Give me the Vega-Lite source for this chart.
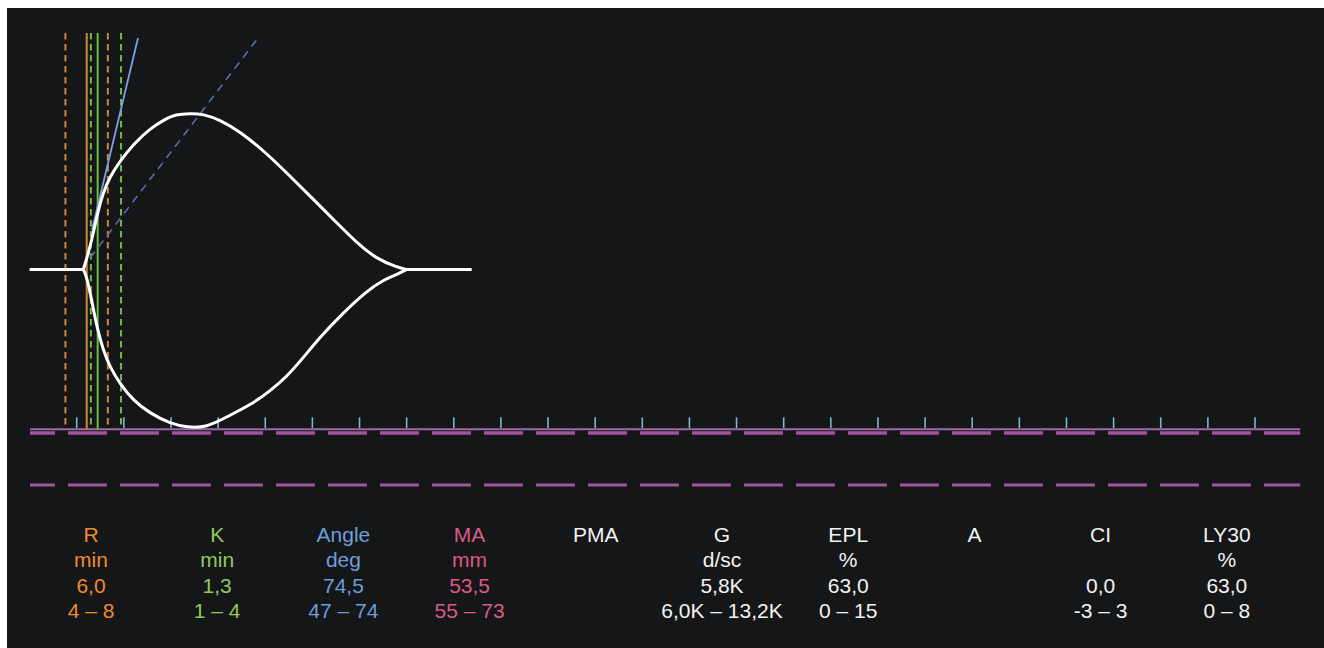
{
  "$schema": "https://vega.github.io/schema/vega-lite/v6.json",
  "width": 1324,
  "height": 648,
  "autosize": {"type": "fit", "contains": "padding"},
  "padding": {"left": 7, "top": 8, "right": 0, "bottom": 0},
  "background": "#ffffff",
  "config": {"view": {"fill": "#151618", "stroke": null}},
  "datasets": {
    "flat": [
      {"s": "lead", "t": 0, "a": 0},
      {"s": "lead", "t": 5.7, "a": 0},
      {"s": "tail", "t": 40.006, "a": 0},
      {"s": "tail", "t": 46.9, "a": 0}
    ],
    "curve": [
      {"s": "upper", "t": 5.7, "a": 0},
      {"s": "upper", "t": 6.228, "a": 2.76},
      {"s": "upper", "t": 6.758, "a": 6.17},
      {"s": "upper", "t": 7.288, "a": 10.14},
      {"s": "upper", "t": 7.787, "a": 13.03},
      {"s": "upper", "t": 8.53, "a": 15.81},
      {"s": "upper", "t": 9.591, "a": 18.48},
      {"s": "upper", "t": 11.002, "a": 21.33},
      {"s": "upper", "t": 12.773, "a": 24.05},
      {"s": "upper", "t": 14.545, "a": 25.76},
      {"s": "upper", "t": 15.425, "a": 26.4},
      {"s": "upper", "t": 17.017, "a": 26.6},
      {"s": "upper", "t": 18.428, "a": 26.5},
      {"s": "upper", "t": 20.199, "a": 25.47},
      {"s": "upper", "t": 22.321, "a": 23.48},
      {"s": "upper", "t": 25.154, "a": 19.8},
      {"s": "upper", "t": 27.626, "a": 15.9},
      {"s": "upper", "t": 30.458, "a": 11.38},
      {"s": "upper", "t": 32.58, "a": 7.97},
      {"s": "upper", "t": 34.702, "a": 4.56},
      {"s": "upper", "t": 36.824, "a": 1.79},
      {"s": "upper", "t": 38.946, "a": 0.43},
      {"s": "upper", "t": 40.006, "a": 0},
      {"s": "lower", "t": 5.7, "a": 0},
      {"s": "lower", "t": 6.058, "a": -1.23},
      {"s": "lower", "t": 6.588, "a": -5.2},
      {"s": "lower", "t": 7.119, "a": -9.74},
      {"s": "lower", "t": 7.819, "a": -13.8},
      {"s": "lower", "t": 8.53, "a": -16.64},
      {"s": "lower", "t": 9.591, "a": -19.46},
      {"s": "lower", "t": 11.002, "a": -22.32},
      {"s": "lower", "t": 12.773, "a": -24.51},
      {"s": "lower", "t": 14.895, "a": -26.2},
      {"s": "lower", "t": 16.667, "a": -26.9},
      {"s": "lower", "t": 18.789, "a": -26.9},
      {"s": "lower", "t": 20.911, "a": -25.13},
      {"s": "lower", "t": 23.733, "a": -22.79},
      {"s": "lower", "t": 25.504, "a": -20.7},
      {"s": "lower", "t": 27.276, "a": -18.26},
      {"s": "lower", "t": 29.005, "a": -15.08},
      {"s": "lower", "t": 30.809, "a": -11.5},
      {"s": "lower", "t": 33.249, "a": -7.41},
      {"s": "lower", "t": 35.763, "a": -3.66},
      {"s": "lower", "t": 37.524, "a": -1.79},
      {"s": "lower", "t": 38.871, "a": -0.94},
      {"s": "lower", "t": 40.006, "a": 0}
    ],
    "ticks": [
      {"t": 5}, {"t": 10}, {"t": 15}, {"t": 20}, {"t": 25}, {"t": 30}, {"t": 35}, {"t": 40}, {"t": 45},
      {"t": 50}, {"t": 55}, {"t": 60}, {"t": 65}, {"t": 70}, {"t": 75}, {"t": 80}, {"t": 85}, {"t": 90},
      {"t": 95}, {"t": 100}, {"t": 105}, {"t": 110}, {"t": 115}, {"t": 120}, {"t": 125}, {"t": 130}
    ],
    "table": [
      {"col": 1, "row": 1, "txt": "R", "grp": "R"},
      {"col": 1, "row": 2, "txt": "min", "grp": "R"},
      {"col": 1, "row": 3, "txt": "6,0", "grp": "R"},
      {"col": 1, "row": 4, "txt": "4 – 8", "grp": "R"},
      {"col": 2, "row": 1, "txt": "K", "grp": "K"},
      {"col": 2, "row": 2, "txt": "min", "grp": "K"},
      {"col": 2, "row": 3, "txt": "1,3", "grp": "K"},
      {"col": 2, "row": 4, "txt": "1 – 4", "grp": "K"},
      {"col": 3, "row": 1, "txt": "Angle", "grp": "Angle"},
      {"col": 3, "row": 2, "txt": "deg", "grp": "Angle"},
      {"col": 3, "row": 3, "txt": "74,5", "grp": "Angle"},
      {"col": 3, "row": 4, "txt": "47 – 74", "grp": "Angle"},
      {"col": 4, "row": 1, "txt": "MA", "grp": "MA"},
      {"col": 4, "row": 2, "txt": "mm", "grp": "MA"},
      {"col": 4, "row": 3, "txt": "53,5", "grp": "MA"},
      {"col": 4, "row": 4, "txt": "55 – 73", "grp": "MA"},
      {"col": 5, "row": 1, "txt": "PMA", "grp": "W"},
      {"col": 6, "row": 1, "txt": "G", "grp": "W"},
      {"col": 6, "row": 2, "txt": "d/sc", "grp": "W"},
      {"col": 6, "row": 3, "txt": "5,8K", "grp": "W"},
      {"col": 6, "row": 4, "txt": "6,0K – 13,2K", "grp": "W"},
      {"col": 7, "row": 1, "txt": "EPL", "grp": "W"},
      {"col": 7, "row": 2, "txt": "%", "grp": "W"},
      {"col": 7, "row": 3, "txt": "63,0", "grp": "W"},
      {"col": 7, "row": 4, "txt": "0 – 15", "grp": "W"},
      {"col": 8, "row": 1, "txt": "A", "grp": "W"},
      {"col": 9, "row": 1, "txt": "CI", "grp": "W"},
      {"col": 9, "row": 3, "txt": "0,0", "grp": "W"},
      {"col": 9, "row": 4, "txt": "-3 – 3", "grp": "W"},
      {"col": 10, "row": 1, "txt": "LY30", "grp": "W"},
      {"col": 10, "row": 2, "txt": "%", "grp": "W"},
      {"col": 10, "row": 3, "txt": "63,0", "grp": "W"},
      {"col": 10, "row": 4, "txt": "0 – 8", "grp": "W"}
    ]
  },
  "layer": [
    {
      "layer": [
        {
          "data": {"values": [{"t0": 0.04, "t1": 134.8}]},
          "mark": {"type": "rule", "color": "#a3559c", "strokeWidth": 3.5, "strokeDash": [39, 13], "strokeDashOffset": 14},
          "encoding": {
            "x": {"field": "t0", "type": "quantitative", "scale": {"domain": [-2.398, 137.32], "nice": false, "zero": false}, "axis": null},
            "x2": {"field": "t1"},
            "y": {"datum": -27.85, "type": "quantitative", "scale": {"domain": [-64.48, 44.55], "nice": false, "zero": false}, "axis": null}
          }
        },
        {
          "data": {"values": [{"t0": 0.04, "t1": 134.8}]},
          "mark": {"type": "rule", "color": "#9c6aa8", "strokeWidth": 2},
          "encoding": {
            "x": {"field": "t0", "type": "quantitative", "scale": {"domain": [-2.398, 137.32], "nice": false, "zero": false}, "axis": null},
            "x2": {"field": "t1"},
            "y": {"datum": -27.22, "type": "quantitative", "scale": {"domain": [-64.48, 44.55], "nice": false, "zero": false}, "axis": null}
          }
        },
        {
          "data": {"values": [{"t0": 0.04, "t1": 134.8}]},
          "mark": {"type": "rule", "color": "#a3559c", "strokeWidth": 3, "strokeDash": [39, 13], "strokeDashOffset": 14},
          "encoding": {
            "x": {"field": "t0", "type": "quantitative", "scale": {"domain": [-2.398, 137.32], "nice": false, "zero": false}, "axis": null},
            "x2": {"field": "t1"},
            "y": {"datum": -36.71, "type": "quantitative", "scale": {"domain": [-64.48, 44.55], "nice": false, "zero": false}, "axis": null}
          }
        },
        {
          "data": {"name": "ticks"},
          "mark": {"type": "rule", "color": "#7ab6d6", "strokeWidth": 1.6},
          "encoding": {
            "x": {"field": "t", "type": "quantitative", "scale": {"domain": [-2.398, 137.32], "nice": false, "zero": false}, "axis": null},
            "y": {"datum": -25.18, "type": "quantitative", "scale": {"domain": [-64.48, 44.55], "nice": false, "zero": false}, "axis": null},
            "y2": {"datum": -27.0}
          }
        },
        {
          "data": {"values": [{"t": 3.8, "kind": "R"}, {"t": 8.3, "kind": "R"}, {"t": 6.5, "kind": "K"}, {"t": 9.7, "kind": "K"}]},
          "mark": {"type": "rule", "strokeWidth": 2, "strokeDash": [6.5, 4.5]},
          "encoding": {
            "x": {"field": "t", "type": "quantitative", "scale": {"domain": [-2.398, 137.32], "nice": false, "zero": false}, "axis": null},
            "y": {"datum": 40.3, "type": "quantitative", "scale": {"domain": [-64.48, 44.55], "nice": false, "zero": false}, "axis": null},
            "y2": {"datum": -26.6},
            "color": {"field": "kind", "type": "nominal", "scale": {"domain": ["R", "K"], "range": ["#d0843c", "#6cbc46"]}, "legend": null}
          }
        },
        {
          "data": {"values": [{"t": 6.06, "kind": "R"}, {"t": 7.22, "kind": "K"}]},
          "mark": {"type": "rule", "strokeWidth": 2},
          "encoding": {
            "x": {"field": "t", "type": "quantitative", "scale": {"domain": [-2.398, 137.32], "nice": false, "zero": false}, "axis": null},
            "y": {"datum": 40.3, "type": "quantitative", "scale": {"domain": [-64.48, 44.55], "nice": false, "zero": false}, "axis": null},
            "y2": {"datum": -27.3},
            "color": {"field": "kind", "type": "nominal", "scale": {"domain": ["R", "K"], "range": ["#d0843c", "#6cbc46"]}, "legend": null}
          }
        },
        {
          "data": {"values": [{"t": 6.41, "a": 1.96}, {"t": 24.23, "a": 39.44}]},
          "mark": {"type": "line", "color": "#5d6cb0", "strokeWidth": 1.6, "strokeDash": [8, 6]},
          "encoding": {
            "x": {"field": "t", "type": "quantitative", "scale": {"domain": [-2.398, 137.32], "nice": false, "zero": false}, "axis": null},
            "y": {"field": "a", "type": "quantitative", "scale": {"domain": [-64.48, 44.55], "nice": false, "zero": false}, "axis": null}
          }
        },
        {
          "data": {"values": [{"t": 6.62, "a": 6.73}, {"t": 11.5, "a": 39.44}]},
          "mark": {"type": "line", "color": "#7aa0e6", "strokeWidth": 1.8},
          "encoding": {
            "x": {"field": "t", "type": "quantitative", "scale": {"domain": [-2.398, 137.32], "nice": false, "zero": false}, "axis": null},
            "y": {"field": "a", "type": "quantitative", "scale": {"domain": [-64.48, 44.55], "nice": false, "zero": false}, "axis": null}
          }
        },
        {
          "data": {"name": "flat"},
          "mark": {"type": "line", "color": "#ffffff", "strokeWidth": 3},
          "encoding": {
            "x": {"field": "t", "type": "quantitative", "scale": {"domain": [-2.398, 137.32], "nice": false, "zero": false}, "axis": null},
            "y": {"field": "a", "type": "quantitative", "scale": {"domain": [-64.48, 44.55], "nice": false, "zero": false}, "axis": null},
            "detail": {"field": "s", "type": "nominal"}
          }
        },
        {
          "data": {"name": "curve"},
          "mark": {"type": "line", "color": "#ffffff", "strokeWidth": 3, "interpolate": "basis"},
          "encoding": {
            "x": {"field": "t", "type": "quantitative", "scale": {"domain": [-2.398, 137.32], "nice": false, "zero": false}, "axis": null},
            "y": {"field": "a", "type": "quantitative", "scale": {"domain": [-64.48, 44.55], "nice": false, "zero": false}, "axis": null},
            "detail": {"field": "s", "type": "nominal"}
          }
        }
      ]
    },
    {
      "data": {"name": "table"},
      "mark": {"type": "text", "font": "Liberation Sans", "fontSize": 21, "align": "center", "baseline": "alphabetic"},
      "encoding": {
        "x": {"field": "col", "type": "quantitative", "scale": {"domain": [0.3344, 10.77], "nice": false, "zero": false}, "axis": null},
        "y": {"field": "row", "type": "quantitative", "scale": {"domain": [-19.84, 5.16], "nice": false, "zero": false, "reverse": true}, "axis": null},
        "text": {"field": "txt"},
        "color": {"field": "grp", "type": "nominal", "scale": {"domain": ["R", "K", "Angle", "MA", "W"], "range": ["#f08a2e", "#8fcb5c", "#6f9ddc", "#d95a86", "#f2f2f2"]}, "legend": null}
      }
    }
  ],
  "resolve": {"scale": {"x": "independent", "y": "independent", "color": "independent"}}
}
